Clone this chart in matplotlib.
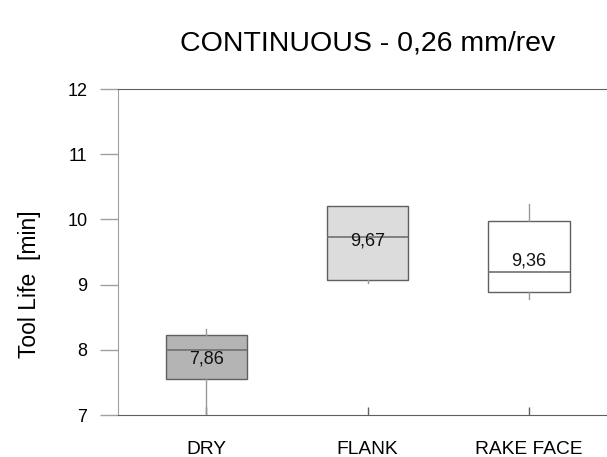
import matplotlib
matplotlib.use("Agg")
import matplotlib.pyplot as plt

categories = ["DRY", "FLANK", "RAKE FACE"]
whisker_low = [7.02, 9.02, 8.78]
q1 = [7.55, 9.07, 8.89]
median = [8.00, 9.73, 9.20]
q3 = [8.23, 10.21, 9.97]
whisker_high = [8.32, 10.21, 10.24]
means = [7.86, 9.67, 9.36]
mean_labels = ["7,86", "9,67", "9,36"]
fills = ["#b4b4b4", "#dcdcdc", "#ffffff"]
yticks = [7, 8, 9, 10, 11, 12]

plt.rcParams['font.family'] = ['Liberation Sans', 'DejaVu Sans']

fig = plt.figure(figsize=(6.07, 4.57), dpi=100)
ax = fig.add_axes([0.1944, 0.0919, 0.8056, 0.7133])

stats = []
for i, c in enumerate(categories):
    stats.append(dict(label=c, whislo=whisker_low[i], q1=q1[i], med=median[i],
                      q3=q3[i], whishi=whisker_high[i], fliers=[]))

positions = [1, 2, 3]
bp = ax.bxp(stats, positions=positions, widths=0.503, patch_artist=True,
            showcaps=False, showfliers=False,
            boxprops=dict(edgecolor="#606060", linewidth=1.0),
            medianprops=dict(color="#707070", linewidth=1.2),
            whiskerprops=dict(color="#999999", linewidth=1.0))
for patch, f in zip(bp['boxes'], fills):
    patch.set_facecolor(f)

for x, m, lab in zip(positions, means, mean_labels):
    ax.text(x, m, lab, ha="center", va="center", fontsize=13, color="#111111")

ax.set_xlim(0.452, 3.484)
ax.set_ylim(7, 12)
ax.set_yticks(yticks)
ax.set_yticklabels([str(t) for t in yticks], fontsize=13)
ax.set_xticks(positions)
ax.set_xticklabels(categories, fontsize=13.8)

ax.tick_params(axis='y', direction='out', length=13, width=1, color="#a0a0a0", pad=9)
ax.tick_params(axis='x', direction='in', length=6, width=1, color="#606060", pad=19)

ax.spines['right'].set_visible(False)
ax.spines['left'].set_color("#a0a0a0")
ax.spines['top'].set_color("#606060")
ax.spines['bottom'].set_color("#606060")

ax.set_ylabel("Tool Life  [min]", fontsize=16.5)
ax.yaxis.set_label_coords(-0.158, 0.40)
fig.text(0.605, 0.905, "CONTINUOUS - 0,26 mm/rev", ha="center", va="center", fontsize=20.5)

fig.savefig("out.png", dpi=100)
